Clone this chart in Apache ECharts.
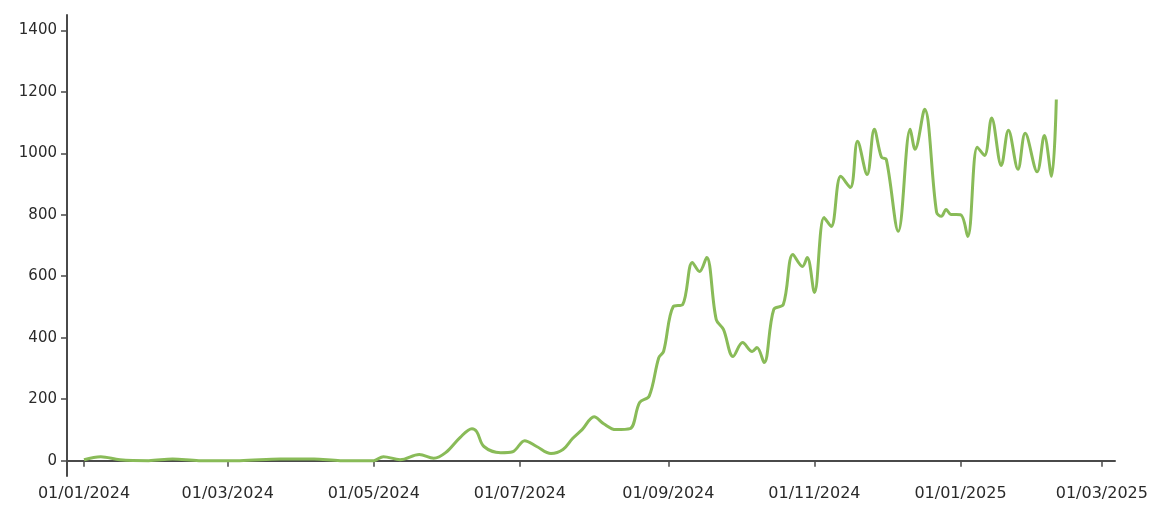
<!DOCTYPE html>
<html>
<head>
<meta charset="utf-8">
<script src="https://cdn.jsdelivr.net/npm/echarts@6/dist/echarts.min.js"></script>
<style>
html,body{margin:0;padding:0;background:#fff;}
#chart{width:1153px;height:515px;}
</style>
</head>
<body>
<div id="chart"></div>
<script>
// Data
const dates = [
  '2024-01-01','2024-01-08','2024-01-16','2024-01-28','2024-02-07','2024-02-18','2024-03-06','2024-03-23',
  '2024-04-06','2024-04-17','2024-05-01','2024-05-05','2024-05-12','2024-05-20','2024-05-26','2024-05-31',
  '2024-06-06','2024-06-11','2024-06-13','2024-06-16','2024-06-23','2024-06-28','2024-07-03','2024-07-08',
  '2024-07-14','2024-07-19','2024-07-23','2024-07-27','2024-08-01','2024-08-05','2024-08-10','2024-08-16',
  '2024-08-20','2024-08-24','2024-08-28','2024-08-30','2024-09-03','2024-09-07','2024-09-11','2024-09-14',
  '2024-09-17','2024-09-21','2024-09-24','2024-09-28','2024-10-02','2024-10-06','2024-10-08','2024-10-11',
  '2024-10-15','2024-10-19','2024-10-23','2024-10-27','2024-10-29','2024-11-01','2024-11-05','2024-11-08',
  '2024-11-12','2024-11-16','2024-11-19','2024-11-23','2024-11-26','2024-11-29','2024-12-01','2024-12-06',
  '2024-12-11','2024-12-13','2024-12-17','2024-12-22','2024-12-24','2024-12-26','2024-12-28','2025-01-01',
  '2025-01-04','2025-01-08','2025-01-11','2025-01-14','2025-01-18','2025-01-21','2025-01-25','2025-01-28',
  '2025-02-02','2025-02-05','2025-02-08','2025-02-10'
];
const values = [
  3,13,3,0,5,0,0,5,
  5,0,0,13,3,20,8,26,
  75,104,94,46,26,29,65,46,
  23,36,72,101,143,120,101,104,
  189,210,335,355,501,508,645,615,
  661,459,427,339,384,355,368,319,
  492,508,671,632,661,547,791,762,
  925,889,1039,931,1078,987,980,746,
  1078,1013,1143,808,795,817,801,800,
  729,1020,993,1115,960,1075,948,1065,
  940,1058,925,1175
];
const yTicks = [0,200,400,600,800,1000,1200,1400];
const xTickDates = ['2024-01-01','2024-03-01','2024-05-01','2024-07-01','2024-09-01','2024-11-01','2025-01-01','2025-03-01'];

function toTime(s){ const p = s.split('-').map(Number); return Date.UTC(p[0], p[1]-1, p[2]); }
const xTickValues = xTickDates.map(toTime);
const seriesData = dates.map((d, i) => [toTime(d), values[i]]);
function pad(n){ return (n < 10 ? '0' : '') + n; }
const DAY = 86400000;

const chart = echarts.init(document.getElementById('chart'), null, {renderer: 'canvas'});
chart.setOption({
  animation: false,
  backgroundColor: '#ffffff',
  grid: {left: 67, right: 38, top: 15, bottom: 39, containLabel: false},
  xAxis: {
    type: 'value',
    min: toTime('2024-01-01') - 7.1 * DAY,
    max: toTime('2024-01-01') + 430.5 * DAY,
    splitLine: {show: false},
    axisLine: {show: true, lineStyle: {color: '#4a4a4a', width: 2}},
    axisTick: {show: true, customValues: xTickValues, length: 6, lineStyle: {color: '#4a4a4a', width: 1.5}},
    axisLabel: {
      customValues: xTickValues,
      margin: 10,
      color: '#2a2a2a',
      fontFamily: 'DejaVu Sans',
      fontSize: 16,
      formatter: function (v) {
        const d = new Date(v);
        return pad(d.getUTCDate()) + '/' + pad(d.getUTCMonth()+1) + '/' + d.getUTCFullYear();
      }
    }
  },
  yAxis: {
    type: 'value',
    min: -50,
    max: 1450,
    splitLine: {show: false},
    axisLine: {show: true, lineStyle: {color: '#4a4a4a', width: 2}},
    axisTick: {show: true, customValues: yTicks, length: 6, lineStyle: {color: '#4a4a4a', width: 1.5}},
    axisLabel: {
      customValues: yTicks,
      margin: 10,
      color: '#2a2a2a',
      fontFamily: 'DejaVu Sans',
      fontSize: 15,
      formatter: function (v) { return String(v); }
    }
  },
  series: [{
    type: 'line',
    data: seriesData,
    showSymbol: false,
    smooth: 0.35,
    lineStyle: {color: '#89bb58', width: 3}
  }]
});
</script>
</body>
</html>
